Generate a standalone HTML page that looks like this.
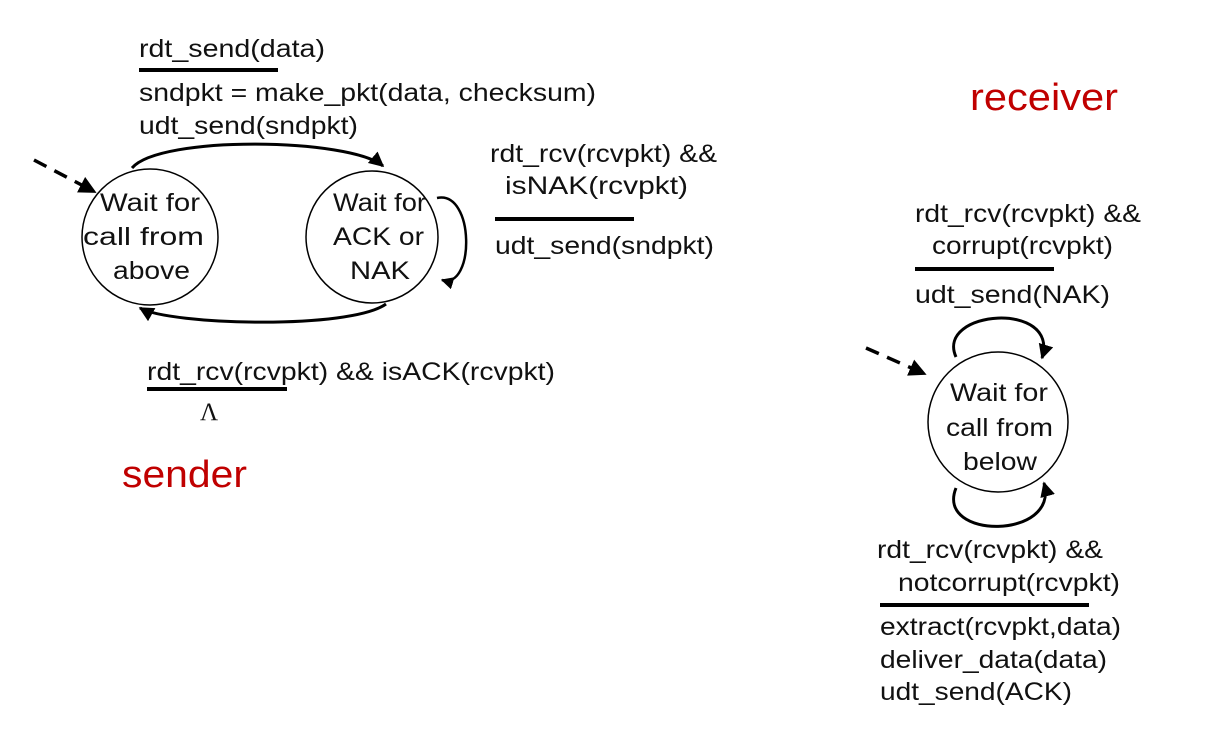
<!DOCTYPE html>
<html><head><meta charset="utf-8"><style>
html,body{margin:0;padding:0;background:#fff;}
svg{display:block;}
text{font-family:"Liberation Sans",Arial,sans-serif;font-size:25px;fill:#111;}
.red{fill:#c00000;font-size:38px;}
</style></head><body>
<svg width="1219" height="730" viewBox="0 0 1219 730" xmlns="http://www.w3.org/2000/svg">
<defs>
<marker id="a" viewBox="0 0 10 10" refX="9" refY="5" markerWidth="5" markerHeight="5" orient="auto-start-reverse">
<path d="M0,0 L10,5 L0,10 z" fill="#000"/></marker>
</defs>
<g fill="none" stroke="#000">
<circle cx="150" cy="237" r="68" stroke-width="1.5"/>
<circle cx="372" cy="237" r="66" stroke-width="1.5"/>
<circle cx="998" cy="422" r="70" stroke-width="1.5"/>
<path d="M132,168 C160,135 350,138 383,166" stroke-width="3" marker-end="url(#a)"/>
<path d="M386,304 C350,330 170,325 140,308" stroke-width="3" marker-end="url(#a)"/>
<path d="M437,198 C475,190 475,290 442,280" stroke-width="2.5" marker-end="url(#a)"/>
<path d="M34,160 L95,192" stroke-width="3.5" stroke-dasharray="14,9" marker-end="url(#a)"/>
<path d="M866,348 L925,374" stroke-width="3.5" stroke-dasharray="14,9" marker-end="url(#a)"/>
<path d="M956,357 C935,310 1060,300 1042,358" stroke-width="3" marker-end="url(#a)"/>
<path d="M956,488 C935,540 1060,540 1044,483" stroke-width="3" marker-end="url(#a)"/>
</g>
<g fill="#000">
<rect x="139" y="68" width="139" height="4"/>
<rect x="495" y="217" width="139" height="4"/>
<rect x="147" y="387" width="140" height="4"/>
<rect x="915" y="267" width="139" height="4"/>
<rect x="880" y="603" width="209" height="4"/>
</g>
<g lengthAdjust="spacingAndGlyphs">
<text x="139" y="57" textLength="186" lengthAdjust="spacingAndGlyphs">rdt_send(data)</text>
<text x="139" y="101" textLength="457" lengthAdjust="spacingAndGlyphs">sndpkt = make_pkt(data, checksum)</text>
<text x="139" y="134" textLength="219" lengthAdjust="spacingAndGlyphs">udt_send(sndpkt)</text>
<text x="490" y="162" textLength="227" lengthAdjust="spacingAndGlyphs">rdt_rcv(rcvpkt) &amp;&amp;</text>
<text x="505" y="194" textLength="183" lengthAdjust="spacingAndGlyphs">isNAK(rcvpkt)</text>
<text x="495" y="254" textLength="219" lengthAdjust="spacingAndGlyphs">udt_send(sndpkt)</text>
<text x="100" y="211" textLength="100" lengthAdjust="spacingAndGlyphs">Wait for</text>
<text x="83" y="245" textLength="121" lengthAdjust="spacingAndGlyphs">call from</text>
<text x="113" y="279" textLength="77" lengthAdjust="spacingAndGlyphs">above</text>
<text x="333" y="211" textLength="93" lengthAdjust="spacingAndGlyphs">Wait for</text>
<text x="333" y="245" textLength="91" lengthAdjust="spacingAndGlyphs">ACK or</text>
<text x="350" y="279" textLength="60" lengthAdjust="spacingAndGlyphs">NAK</text>
<text x="147" y="380" textLength="408" lengthAdjust="spacingAndGlyphs">rdt_rcv(rcvpkt) &amp;&amp; isACK(rcvpkt)</text>
<text x="200" y="420" style="font-family:'Liberation Serif',serif">Λ</text>
<text x="122" y="487" class="red" textLength="125" lengthAdjust="spacingAndGlyphs">sender</text>
<text x="970" y="110" class="red" textLength="148" lengthAdjust="spacingAndGlyphs">receiver</text>
<text x="915" y="222" textLength="226" lengthAdjust="spacingAndGlyphs">rdt_rcv(rcvpkt) &amp;&amp;</text>
<text x="932" y="254" textLength="181" lengthAdjust="spacingAndGlyphs">corrupt(rcvpkt)</text>
<text x="915" y="303" textLength="195" lengthAdjust="spacingAndGlyphs">udt_send(NAK)</text>
<text x="950" y="401" textLength="98" lengthAdjust="spacingAndGlyphs">Wait for</text>
<text x="946" y="436" textLength="107" lengthAdjust="spacingAndGlyphs">call from</text>
<text x="963" y="470" textLength="74" lengthAdjust="spacingAndGlyphs">below</text>
<text x="877" y="558" textLength="226" lengthAdjust="spacingAndGlyphs">rdt_rcv(rcvpkt) &amp;&amp;</text>
<text x="898" y="591" textLength="222" lengthAdjust="spacingAndGlyphs">notcorrupt(rcvpkt)</text>
<text x="880" y="635" textLength="241" lengthAdjust="spacingAndGlyphs">extract(rcvpkt,data)</text>
<text x="880" y="668" textLength="227" lengthAdjust="spacingAndGlyphs">deliver_data(data)</text>
<text x="880" y="700" textLength="192" lengthAdjust="spacingAndGlyphs">udt_send(ACK)</text>
</g>
</svg>
</body></html>
